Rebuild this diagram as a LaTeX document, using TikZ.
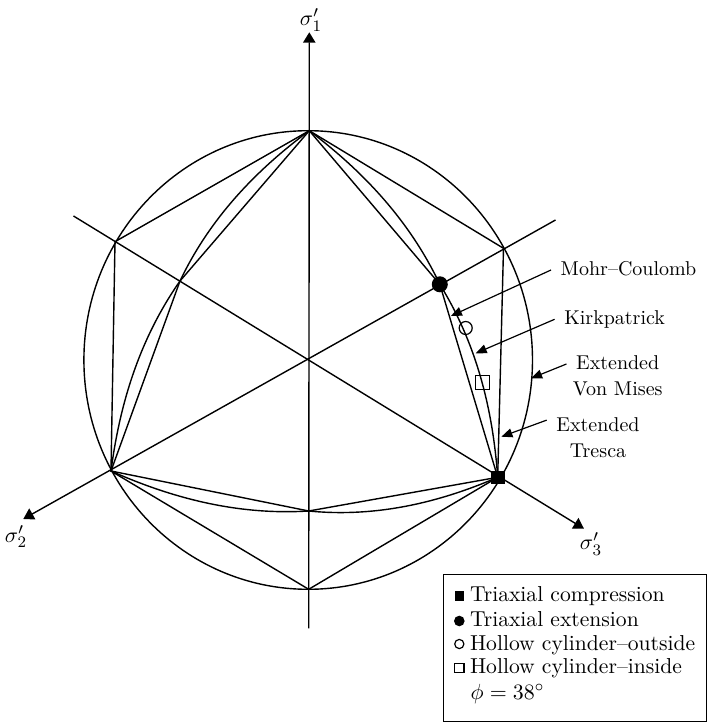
\documentclass[tikz,border=0pt]{standalone}
\usepackage{tikz}
\usetikzlibrary{calc,positioning,arrows.meta}
% one Kirkpatrick arc from an extension vertex #1 to a compression vertex #2,
% #3 = 90 or -90 so that the bulge points outwards
\newcommand{\kirkseg}[3]{%
\draw[line cap=round] (#1) .. controls ($(#1)!0.333!(#2)!9pt!#3:(#2)$)
    and ($(#1)!0.667!(#2)!7.5pt!#3:(#2)$) .. (#2);}
\tikzset{
  axis/.style={line width=0.7pt,-{Triangle[length=5.2pt,width=6.2pt]}},
  lead/.style={line width=0.6pt,-{Triangle[length=5.5pt,width=4.5pt]}},
  lbl/.style={font=\fontsize{10}{12}\selectfont, inner xsep=4.5pt, inner ysep=0pt,
    text height=7.5pt, text depth=2pt},
  legtext/.style={font=\fontsize{10.8}{13}\selectfont, inner sep=0pt, anchor=base west},
  sig/.style={font=\fontsize{11}{13}\selectfont, inner sep=1pt},
  dot/.style={inner sep=0pt, line width=0.6pt}
}
\begin{document}
\begin{tikzpicture}[x=0.5pt,y=0.5pt,line width=0.7pt]
\useasboundingbox (-307.5,-362) rectangle (399.5,360);
% vertices of the hexagons
\coordinate (v90) at (1.8,229.3);
\coordinate (v30) at (196,111.7);
\coordinate (v330) at (190.2,-117.3);
\coordinate (v270) at (1.2,-229.3);
\coordinate (v210) at (-196.5,-111);
\coordinate (v150) at (-192.5,118.3);
\coordinate (e30) at (132.3,75.7);
\coordinate (e150) at (-127.5,79);
\coordinate (e270) at (1.2,-151);
% axes
\coordinate (a1) at (1.2,-268.3);
\coordinate (t1) at (1.8,327.7);
\coordinate (a2) at (248,140);
\coordinate (t2) at (-284.2,-159);
\coordinate (a3) at (-234,144);
\coordinate (t3) at (276.5,-168.7);
\draw[axis] (a1) -- (t1);
\draw[axis] (a2) -- (t2);
\draw[axis] (a3) -- (t3);
\node[sig] (s1) at (3.5,340) {$\sigma'_1$};
\node[sig] (s2) at (-291.5,-176.5) {$\sigma'_2$};
\node[sig] (s3) at (283.5,-184) {$\sigma'_3$};
% extended von mises
\draw (0.7,0) circle [x radius=224.3, y radius=229.3];
% extended tresca
\draw (v90) -- (v30) -- (v330) -- (v270) -- (v210) -- (v150) -- cycle;
% mohr-coulomb
\draw (v90) -- (e30) -- (v330) -- (e270) -- (v210) -- (e150) -- cycle;
% kirkpatrick
\kirkseg{e30}{v330}{90}
\kirkseg{e30}{v90}{-90}
\kirkseg{e150}{v90}{90}
\kirkseg{e150}{v210}{-90}
\kirkseg{e270}{v210}{90}
\kirkseg{e270}{v330}{-90}
% test points
\node[dot, circle, fill, minimum size=8pt] (tx) at (e30) {};
\node[dot, rectangle, fill, minimum size=6.8pt] (tc) at (v330) {};
\node[dot, circle, draw, minimum size=6.5pt] (ho) at (158.2,32) {};
\node[dot, rectangle, draw, minimum size=7pt] (hi) at (174.9,-22.3) {};
% labels
\coordinate (mctip) at (143.4,44);
\coordinate (kptip) at (168.2,6.7);
\coordinate (vmtip) at (223.6,-18.3);
\coordinate (trtip) at (193.9,-76.7);
\node[lbl, anchor=west] (mc) at (243.5,90) {Mohr--Coulomb};
\node[lbl, anchor=west] (kp) at (247.1,40.7) {Kirkpatrick};
\node[lbl] (vm1) at (310.2,-4) {Extended};
\node[lbl, below=3pt of vm1] (vm2) {Von Mises};
\node[lbl] (tr1) at (290.5,-65.7) {Extended};
\node[lbl, below=3pt of tr1] (tr2) {Tresca};
\draw[lead] (mc.west) -- (mctip);
\draw[lead] (kp.west) -- (kptip);
\draw[lead] (vm1.west) -- (vmtip);
\draw[lead] ([yshift=2.8pt]tr1.west) -- (trtip);
% legend
\draw[line width=0.5pt] (135.5,-214) rectangle (398.5,-361.5);
\node[dot, rectangle, fill, minimum size=4.6pt] (lm1) at (151.8,-236) {};
\node[dot, circle, fill, minimum size=5.3pt] (lm2) at (151.8,-261) {};
\node[dot, circle, draw, minimum size=4.6pt] (lm3) at (151.8,-284) {};
\node[dot, rectangle, draw, minimum size=4.6pt] (lm4) at (151.8,-307.7) {};
\node[legtext] (lt1) at (161.8,-241.7) {Triaxial compression};
\node[legtext] (lt2) at (161.8,-266.7) {Triaxial extension};
\node[legtext] (lt3) at (161.8,-290) {Hollow cylinder--outside};
\node[legtext] (lt4) at (161.8,-313.3) {Hollow cylinder--inside};
\node[legtext] (lt5) at (162.5,-339) {$\phi = 38^\circ$};
\end{tikzpicture}
\end{document}
